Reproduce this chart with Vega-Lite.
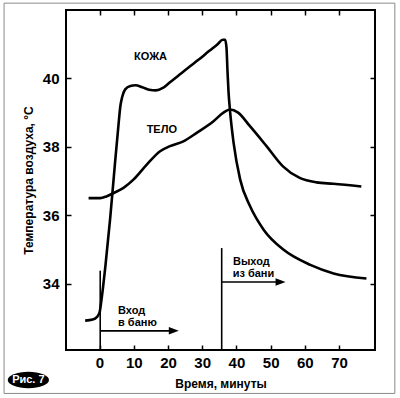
{
  "$schema": "https://vega.github.io/schema/vega-lite/v6.json",
  "width": 309,
  "height": 340,
  "autosize": "none",
  "padding": {"left": 66, "top": 10, "right": 25, "bottom": 48},
  "background": "white",
  "config": {
    "view": {"stroke": "black", "strokeWidth": 2},
    "font": "Liberation Sans Narrow, Liberation Sans, Arial",
    "axis": {
      "domain": false,
      "grid": false,
      "tickColor": "black",
      "tickSize": -5,
      "tickWidth": 1.5,
      "labelFont": "Liberation Sans Narrow, Liberation Sans, Arial",
      "labelFontWeight": "bold",
      "labelFontSize": 15,
      "labelColor": "black",
      "titleFont": "Liberation Sans, Arial",
      "titleFontWeight": "bold",
      "titleFontSize": 12,
      "titleColor": "black"
    }
  },
  "datasets": {
    "skin": [
      {"t": -4.2, "temp": 32.92}, {"t": -2, "temp": 32.95}, {"t": -0.8, "temp": 33.02},
      {"t": 0, "temp": 33.15}, {"t": 0.6, "temp": 33.55}, {"t": 1.7, "temp": 34.5},
      {"t": 3.1, "temp": 35.9}, {"t": 4.5, "temp": 37.5}, {"t": 5.5, "temp": 38.6},
      {"t": 6.1, "temp": 39.2}, {"t": 6.6, "temp": 39.45}, {"t": 7.5, "temp": 39.68},
      {"t": 9, "temp": 39.78}, {"t": 10.5, "temp": 39.8}, {"t": 12.5, "temp": 39.74},
      {"t": 14.5, "temp": 39.67}, {"t": 16.5, "temp": 39.65}, {"t": 18.5, "temp": 39.72},
      {"t": 20.5, "temp": 39.88}, {"t": 23, "temp": 40.08}, {"t": 26, "temp": 40.32},
      {"t": 29, "temp": 40.55}, {"t": 32, "temp": 40.8}, {"t": 34.5, "temp": 41.0},
      {"t": 36, "temp": 41.13}, {"t": 36.7, "temp": 41.13}, {"t": 37.1, "temp": 40.9},
      {"t": 37.4, "temp": 40.2}, {"t": 37.7, "temp": 39.6}, {"t": 38.1, "temp": 39.09},
      {"t": 39.2, "temp": 38.1}, {"t": 41.1, "temp": 37.04}, {"t": 44.0, "temp": 36.26},
      {"t": 48.0, "temp": 35.57}, {"t": 53.8, "temp": 34.99}, {"t": 61.6, "temp": 34.55},
      {"t": 68.4, "temp": 34.3}, {"t": 78.0, "temp": 34.15}
    ],
    "body": [
      {"t": -3.2, "temp": 36.5}, {"t": 0.2, "temp": 36.5}, {"t": 2, "temp": 36.55},
      {"t": 4.1, "temp": 36.65}, {"t": 7.0, "temp": 36.8}, {"t": 9.9, "temp": 37.04},
      {"t": 13.8, "temp": 37.48}, {"t": 17.7, "temp": 37.87}, {"t": 20.6, "temp": 38.02},
      {"t": 24.5, "temp": 38.16}, {"t": 28.4, "temp": 38.41}, {"t": 33.3, "temp": 38.75},
      {"t": 36.2, "temp": 39.0}, {"t": 38.1, "temp": 39.09}, {"t": 40.5, "temp": 39.0},
      {"t": 43.9, "temp": 38.61}, {"t": 48.8, "temp": 38.02}, {"t": 53.6, "temp": 37.43},
      {"t": 58.5, "temp": 37.09}, {"t": 63.4, "temp": 36.96}, {"t": 68.3, "temp": 36.92},
      {"t": 76.5, "temp": 36.84}
    ],
    "curveLabels": [
      {"x": 14.9, "y": 40.64, "label": "КОЖА"},
      {"x": 18.2, "y": 38.5, "label": "ТЕЛО"}
    ],
    "notes": [
      {"x": 5.4, "y": 33.21, "label": "Вход"},
      {"x": 5.4, "y": 32.86, "label": "в баню"},
      {"x": 39.0, "y": 34.63, "label": "Выход"},
      {"x": 38.9, "y": 34.28, "label": "из бани"}
    ],
    "vlines": [
      {"x": 0.2, "y0": 32.06, "y1": 34.38},
      {"x": 35.7, "y0": 32.06, "y1": 35.04}
    ],
    "arrows": [
      {"x0": 0.2, "x1": 22.0, "y": 32.62},
      {"x0": 35.7, "x1": 53.2, "y": 34.05}
    ],
    "heads": [
      {"x": 21.7, "y": 32.62},
      {"x": 52.9, "y": 34.05}
    ],
    "badge": [{"x": -20.8, "y": 31.18, "label": "Рис. 7"}],
    "border": [{"x0": -27.9, "x1": 86.3, "y0": 30.79, "y1": 42.2}]
  },
  "resolve": {"axis": {"x": "independent", "y": "independent"}},
  "layer": [
    {
      "data": {"name": "body"},
      "mark": {"type": "line", "interpolate": "monotone", "color": "black", "strokeWidth": 2.6},
      "encoding": {
        "x": {"field": "t", "type": "quantitative",
              "scale": {"domain": [-9.8, 80.5], "nice": false, "zero": false},
              "axis": {"orient": "bottom", "values": [0, 10, 20, 30, 40, 50, 60, 70], "labelPadding": 10, "title": "Время, минуты", "titlePadding": 8}},
        "y": {"field": "temp", "type": "quantitative",
              "scale": {"domain": [32.06, 42.0], "nice": false, "zero": false},
              "axis": {"orient": "left", "values": [34, 36, 38, 40], "labelPadding": 12, "title": "Температура воздуха, °С", "titlePadding": 7}}
      }
    },
    {
      "data": {"name": "skin"},
      "mark": {"type": "line", "interpolate": "monotone", "color": "black", "strokeWidth": 2.6},
      "encoding": {
        "x": {"field": "t", "type": "quantitative",
              "axis": {"orient": "top", "values": [0, 10, 20, 30, 40, 50, 60, 70], "labels": false, "title": null}},
        "y": {"field": "temp", "type": "quantitative",
              "axis": {"orient": "right", "values": [34, 36, 38, 40], "labels": false, "title": null}}
      }
    },
    {
      "data": {"name": "vlines"},
      "mark": {"type": "rule", "color": "black", "strokeWidth": 1.6},
      "encoding": {
        "x": {"field": "x", "type": "quantitative", "axis": null},
        "y": {"field": "y0", "type": "quantitative", "axis": null},
        "y2": {"field": "y1"}
      }
    },
    {
      "data": {"name": "arrows"},
      "mark": {"type": "rule", "color": "black", "strokeWidth": 1.6},
      "encoding": {
        "x": {"field": "x0", "type": "quantitative", "axis": null},
        "x2": {"field": "x1"},
        "y": {"field": "y", "type": "quantitative", "axis": null}
      }
    },
    {
      "data": {"name": "heads"},
      "mark": {"type": "point", "shape": "M -1,-0.75 L 1,0 L -1,0.75 Z", "filled": true, "color": "black", "opacity": 1, "size": 100},
      "encoding": {
        "x": {"field": "x", "type": "quantitative", "axis": null},
        "y": {"field": "y", "type": "quantitative", "axis": null}
      }
    },
    {
      "data": {"name": "curveLabels"},
      "mark": {"type": "text", "fontWeight": "bold", "fontSize": 11, "align": "center", "baseline": "middle", "color": "black"},
      "encoding": {
        "x": {"field": "x", "type": "quantitative", "axis": null},
        "y": {"field": "y", "type": "quantitative", "axis": null},
        "text": {"field": "label"}
      }
    },
    {
      "data": {"name": "notes"},
      "mark": {"type": "text", "fontWeight": "bold", "fontSize": 11, "align": "left", "baseline": "middle", "color": "black"},
      "encoding": {
        "x": {"field": "x", "type": "quantitative", "axis": null},
        "y": {"field": "y", "type": "quantitative", "axis": null},
        "text": {"field": "label"}
      }
    },
    {
      "data": {"name": "border"},
      "mark": {"type": "rect", "fill": null, "stroke": "#8a8a8a", "strokeWidth": 1},
      "encoding": {
        "x": {"field": "x0", "type": "quantitative", "axis": null},
        "x2": {"field": "x1"},
        "y": {"field": "y0", "type": "quantitative", "axis": null},
        "y2": {"field": "y1"}
      }
    },
    {
      "data": {"name": "badge"},
      "mark": {"type": "point", "shape": "M -1,0 A 1,0.4 0 1,1 1,0 A 1,0.4 0 1,1 -1,0 Z", "filled": true, "color": "black", "opacity": 1, "size": 1700},
      "encoding": {
        "x": {"field": "x", "type": "quantitative", "axis": null},
        "y": {"field": "y", "type": "quantitative", "axis": null}
      }
    },
    {
      "data": {"name": "badge"},
      "mark": {"type": "text", "fontWeight": "bold", "fontSize": 11, "font": "Liberation Sans, Arial", "align": "center", "baseline": "middle", "color": "white"},
      "encoding": {
        "x": {"field": "x", "type": "quantitative", "axis": null},
        "y": {"field": "y", "type": "quantitative", "axis": null},
        "text": {"field": "label"}
      }
    }
  ]
}
